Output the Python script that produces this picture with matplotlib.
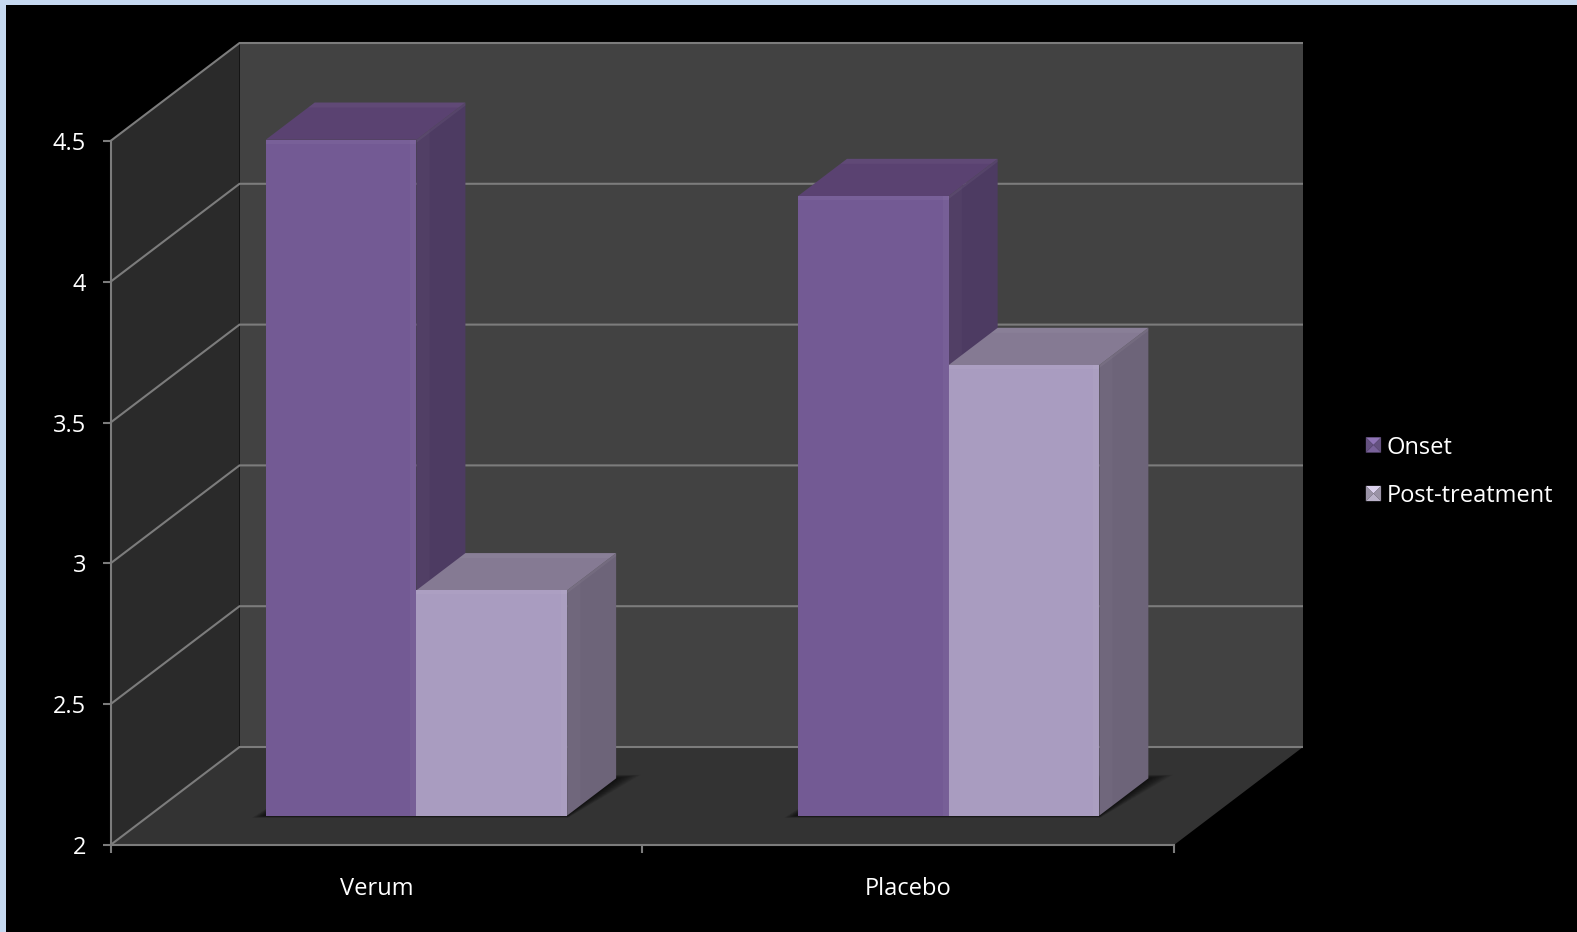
import matplotlib
matplotlib.use("Agg")
import matplotlib.pyplot as plt
from matplotlib.patches import Polygon, Rectangle, Patch
from matplotlib.legend_handler import HandlerBase

plt.rcParams['font.family'] = ['Open Sans', 'DejaVu Sans']

# data
categories = ["Verum", "Placebo"]
series = ["Onset", "Post-treatment"]
onset = [4.4, 4.2]
post_treatment = [2.8, 3.6]
y_ticks = [2, 2.5, 3, 3.5, 4, 4.5]
y_labels = ["2", "2.5", "3", "3.5", "4", "4.5"]

W, H = 1577, 932
GRID = "#7c7c7c"

# colours: front, side, top
onset_cols = ("#735a94", "#4d3b62", "#5a4271")
post_cols = ("#a99cc0", "#6d6479", "#857a93")

fig = plt.figure(figsize=(W / 100, H / 100), dpi=100, facecolor="#c6d9f1")
fig.add_artist(Rectangle((6 / W, 0), 1 - 6 / W, 1 - 5 / H, transform=fig.transFigure,
                         facecolor="black", edgecolor="none", zorder=-5))

ax = fig.add_axes([110.5 / W, (H - 845) / H, 1063.5 / W, 704 / H])
ax.set_xlim(0, 2)
ax.set_ylim(2, 4.5)
ax.patch.set_visible(False)

# depth axis of the fake 3d, in data units
DX = 129 / 531.75
DY = 98 / 281.6
# one pixel in data units
PX = 1 / 531.75
PY = 1 / 281.6
PD = 1 / 98


def proj(x, v, d):
    return (x + d * DX, v + d * DY)


def face(points, color, z):
    p = Polygon([proj(*q) for q in points], closed=True, facecolor=color,
                edgecolor="none", clip_on=False, zorder=z)
    ax.add_patch(p)


def line(points, z=1.5):
    xy = [proj(*q) for q in points]
    ax.plot([q[0] for q in xy], [q[1] for q in xy], color=GRID, lw=1.5,
            clip_on=False, zorder=z, solid_capstyle="butt")


# walls and floor
face([(0, 2, 1), (2, 2, 1), (2, 4.5, 1), (0, 4.5, 1)], "#424242", 1)
face([(0, 2, 0), (0, 2, 1), (0, 4.5, 1), (0, 4.5, 0)], "#2a2a2a", 1)
face([(0, 2, 0), (2, 2, 0), (2, 2, 1), (0, 2, 1)], "#333333", 1)

for t in y_ticks:
    line([(0, t, 0), (0, t, 1), (2, t, 1)])

D0, D1 = 0.30, 0.68
BW = 0.2834


def shadow(x0, x1):
    # soft shadow on the floor, stacked layers
    for i in range(14):
        e = 1.3 * (14 - i)
        face([(x0 - e * 0.6 * PX, 2, D0 - e * 0.12 * PD), (x1 + e * 0.2 * PX, 2, D0 - e * 0.12 * PD),
              (x1 + e * 1.1 * PX, 2, D1 + e * 0.2 * PD), (x0, 2, D1 + e * 0.2 * PD)],
             (0, 0, 0, 0.06), 2)


def bar(x0, x1, v, cols, z):
    face([(x1, 2, D0), (x1, 2, D1), (x1, v, D1), (x1, v, D0)], cols[1], z)
    face([(x0, v, D0), (x1, v, D0), (x1, v, D1), (x0, v, D1)], cols[2], z)
    face([(x0, 2, D0), (x1, 2, D0), (x1, v, D0), (x0, v, D0)], cols[0], z + 0.1)
    # bevels: light rim round the front, the top and the side
    s = 4
    face([(x0, v - s * PY, D0), (x1, v - s * PY, D0), (x1, v, D0), (x0, v, D0)],
         (1, 1, 1, 0.04), z + 0.2)
    face([(x1 - 6 * PX, 2, D0), (x1, 2, D0), (x1, v, D0), (x1 - 6 * PX, v, D0)],
         (1, 1, 1, 0.03), z + 0.2)
    face([(x0, v, D1 - 5 * PD), (x1, v, D1 - 5 * PD), (x1, v, D1), (x0, v, D1)],
         (1, 1, 1, 0.04), z + 0.2)
    face([(x1, 2, D0), (x1, 2, D0 + 10 * PD), (x1, v, D0 + 10 * PD), (x1, v, D0)],
         (1, 1, 1, 0.025), z + 0.2)
    face([(x1, v - 3 * PY, D0), (x1, v - 3 * PY, D1), (x1, v, D1), (x1, v, D0)],
         (1, 1, 1, 0.05), z + 0.2)


for i, cat in enumerate(categories):
    left = i + 0.5025 + 0.0009 * i - BW
    shadow(left, left + 2 * BW)
    bar(left, left + BW, onset[i], onset_cols, 3)
    bar(left + BW, left + 2 * BW, post_treatment[i], post_cols, 4)

# axes
for s in ("top", "right"):
    ax.spines[s].set_visible(False)
for s in ("left", "bottom"):
    ax.spines[s].set_color(GRID)
    ax.spines[s].set_linewidth(1.5)
    ax.spines[s].set_zorder(6)

ax.set_yticks(y_ticks)
ax.set_yticklabels(y_labels)
ax.set_xticks([0, 1, 2])
ax.set_xticklabels([])
ax.set_xticks([0.5, 1.5], minor=True)
ax.set_xticklabels(categories, minor=True)
ax.tick_params(axis="y", colors=GRID, labelcolor="white", labelsize=17, length=5.5, width=1.5, pad=12)
ax.tick_params(axis="x", which="major", colors=GRID, length=5.5, width=1.5)
ax.tick_params(axis="x", which="minor", length=0, labelcolor="white", labelsize=17, pad=23)


class BevelHandler(HandlerBase):
    # little pyramid square like the office legend keys
    def create_artists(self, legend, orig, xd, yd, width, height, fontsize, trans):
        c = orig.get_facecolor()
        s = 11
        x0 = width - s
        y0 = (height - s) / 2
        mid = (x0 + s / 2, y0 + s / 2)
        a, b, cc, d = (x0, y0), (x0 + s, y0), (x0 + s, y0 + s), (x0, y0 + s)
        out = []
        for pts, al in (((a, b), 0.85), ((b, cc), 0.7), ((cc, d), 1.0), ((d, a), 0.7)):
            tri = Polygon([pts[0], pts[1], mid], closed=True, facecolor=c, alpha=al,
                          edgecolor="none", transform=trans)
            out.append(tri)
        return out


handles = [Patch(facecolor="#8f74b6"), Patch(facecolor="#dcd2ee")]
leg = ax.legend(handles, series, loc="center left", bbox_to_anchor=(1234 / 1063.5, 0.53),
                frameon=False, fontsize=17, labelcolor="white", handlelength=0.65,
                handleheight=0.75, handletextpad=0.23, labelspacing=1.04,
                handler_map={Patch: BevelHandler()})

fig.savefig("out.png", dpi=100, facecolor=fig.get_facecolor())
